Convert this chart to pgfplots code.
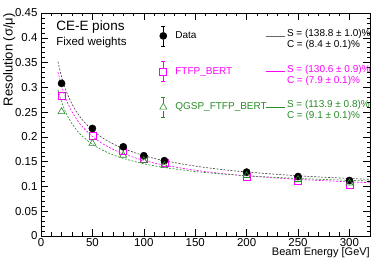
\documentclass[border=0pt]{standalone}
\usepackage{pgfplots}
\pgfplotsset{compat=1.18}
\usepackage{fontspec}
\setmainfont{Liberation Sans}
\definecolor{qgreen}{RGB}{40,140,40}
\definecolor{fmag}{RGB}{255,0,255}
\pgfplotsset{
  errleg/.style={legend image code/.code={
    \path[draw=none, fill=none] (0pt,-10pt) rectangle (16pt,10pt);
    \draw[#1, line width=0.6pt] (6pt,4pt)--(6pt,10pt);
    \draw[#1, line width=0.6pt] (6pt,-4pt)--(6pt,-10pt);
    \draw[#1, line width=0.6pt] (4pt,10pt)--(8pt,10pt);
    \draw[#1, line width=0.6pt] (4pt,-10pt)--(8pt,-10pt);
    \draw[##1] plot coordinates {(6pt,0pt)};
  }},
  lineleg/.style={legend image code/.code={
    \draw[#1, line width=0.7pt] (0pt,0pt)--(19pt,0pt);
  }},
}
\begin{document}
\begin{tikzpicture}
\begin{axis}[
  name=ax,
  scale only axis,
  width=329pt, height=223pt,
  xmin=0, xmax=320, ymin=0, ymax=0.45,
  xtick={0,50,...,300},
  ytick={0,0.05,...,0.45},
  minor x tick num=4,
  minor y tick num=4,
  tick align=inside,
  major tick length=7pt,
  minor tick length=3.5pt,
  tick style={black, line width=0.5pt},
  axis line style={line width=0.6pt},
  scaled y ticks=false,
  yticklabel style={/pgf/number format/fixed, /pgf/number format/precision=2},
  /pgf/number format/assume math mode=true,
  ticklabel style={font=\fontsize{11.5}{13}\selectfont},
  xticklabel style={yshift=1pt},
  legend columns=2,
  legend cell align=left,
  legend style={draw=none, fill=none, at={(axis cs:110,0.429)}, anchor=north west,
    font=\fontsize{10}{12}\selectfont, row sep=15pt,
    /tikz/every even column/.append style={column sep=-3.5pt}},
]
% markers
\addplot[only marks, mark=square, mark size=3.5pt, fmag, line width=0.6pt, forget plot] coordinates {
(20,0.283) (50,0.202) (80,0.171) (100,0.156) (120,0.147) (200,0.120) (250,0.111) (300,0.104)};
\addplot[only marks, mark=*, mark size=3.6pt, black, forget plot] coordinates {
(20,0.308) (50,0.217) (80,0.180) (100,0.162) (120,0.152) (200,0.129) (250,0.120) (300,0.112)};
\addplot[only marks, mark=triangle, mark size=4pt, qgreen, line width=0.6pt, forget plot] coordinates {
(20,0.251) (50,0.187) (80,0.163) (100,0.152) (120,0.142) (200,0.122) (250,0.114) (300,0.107)};
% fit curves
\addplot[black!75, line width=0.6pt, dash pattern=on 2pt off 1.5pt, smooth, forget plot] coordinates {
(16.5,0.3519) (20,0.3215) (25,0.2900) (30,0.2670) (35,0.2492) (40,0.2350) (50,0.2135) (60,0.1979) (70,0.1860) (80,0.1765) (100,0.1622) (120,0.1520) (150,0.1411) (175,0.1344) (200,0.1292) (250,0.1215) (300,0.1161) (320,0.1144)};
\addplot[fmag, line width=0.6pt, dash pattern=on 2pt off 1.5pt, smooth, forget plot] coordinates {
(16.5,0.3311) (20,0.3025) (25,0.2729) (30,0.2512) (35,0.2345) (40,0.2211) (50,0.2009) (60,0.1862) (70,0.1749) (80,0.1660) (100,0.1526) (120,0.1430) (150,0.1327) (175,0.1264) (200,0.1215) (250,0.1143) (300,0.1092) (320,0.1076)};
\addplot[qgreen, line width=0.6pt, dash pattern=on 2pt off 1.5pt, smooth, forget plot] coordinates {
(16.5,0.2948) (20,0.2705) (25,0.2453) (30,0.2270) (35,0.2129) (40,0.2018) (50,0.1850) (60,0.1729) (70,0.1638) (80,0.1565) (100,0.1458) (120,0.1382) (150,0.1301) (175,0.1253) (200,0.1215) (250,0.1161) (300,0.1123) (320,0.1111)};
% legend
\addlegendimage{only marks, mark=*, mark size=3.6pt, black, errleg=black}
\addlegendentry{Data}
\addlegendimage{lineleg=black!60}
\addlegendentry{\begin{tabular}{@{}l@{}}S = (138.8 ± 1.0)\%\\[-1pt] C = (8.4 ± 0.1)\%\end{tabular}}
\addlegendimage{only marks, mark=square, mark size=3.5pt, line width=0.6pt, fmag, errleg=fmag}
\addlegendentry{\textcolor{fmag}{FTFP\_BERT}}
\addlegendimage{lineleg=fmag}
\addlegendentry{\color{fmag}\begin{tabular}{@{}l@{}}S = (130.6 ± 0.9)\%\\[-1pt] C = (7.9 ± 0.1)\%\end{tabular}}
\addlegendimage{only marks, mark=triangle, mark size=4pt, line width=0.6pt, qgreen, errleg=qgreen}
\addlegendentry{\textcolor{qgreen}{QGSP\_FTFP\_BERT}}
\addlegendimage{lineleg=qgreen}
\addlegendentry{\color{qgreen}\begin{tabular}{@{}l@{}}S = (113.9 ± 0.8)\%\\[-1pt] C = (9.1 ± 0.1)\%\end{tabular}}
\node[anchor=west, font=\fontsize{13.5}{15}\selectfont] at (axis cs:11.4,0.4217) {CE-E pions};
\node[anchor=west, font=\fontsize{11.5}{13}\selectfont] at (axis cs:11.4,0.3895) {Fixed weights};
\end{axis}
\node[rotate=90, anchor=north east, font=\fontsize{13}{15}\selectfont, inner sep=0pt] at ([xshift=-38pt]ax.north west) {Resolution (σ/μ)};
\node[anchor=north east, font=\fontsize{11}{13}\selectfont, inner sep=0pt] at ([yshift=-11pt]ax.south east) {Beam Energy [GeV]};
\pgfresetboundingbox
\path ([shift={(-41pt,-28pt)}]ax.south west) rectangle ([shift={(4pt,13pt)}]ax.north east);
\end{tikzpicture}
\end{document}
